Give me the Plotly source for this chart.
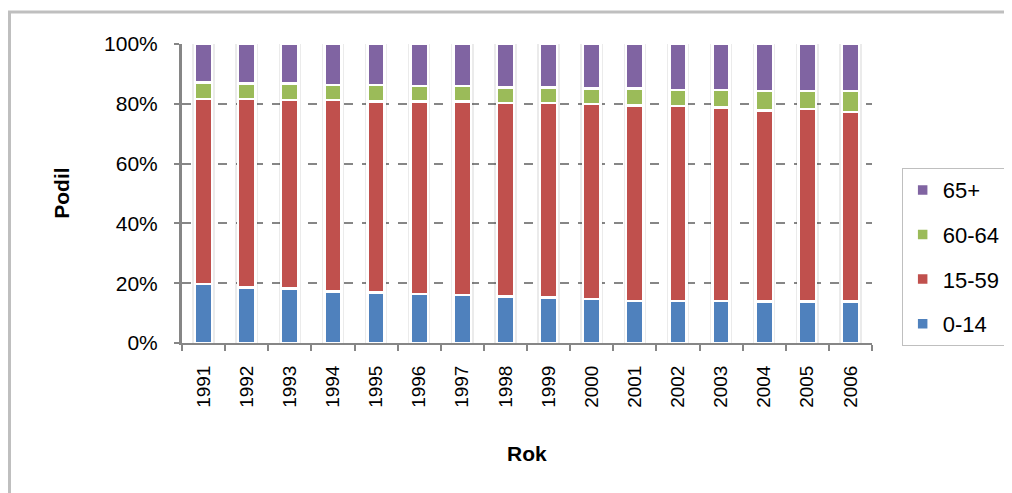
import plotly.graph_objects as go

# -----------------------------
# Datos (podíl věkových skupin, %)
# -----------------------------
roky = ["1991", "1992", "1993", "1994", "1995", "1996", "1997", "1998",
        "1999", "2000", "2001", "2002", "2003", "2004", "2005", "2006"]

vek_0_14 = [19.8, 18.6, 18.2, 17.3, 16.9, 16.4, 16.1, 15.6,
            15.2, 14.7, 14.1, 14.1, 14.1, 13.8, 13.8, 13.8]
vek_15_59 = [61.8, 63.0, 63.0, 63.9, 63.9, 64.4, 64.7, 64.7,
             65.1, 65.3, 65.4, 65.1, 64.6, 64.0, 64.4, 63.4]
vek_60_64 = [5.6, 5.2, 5.6, 5.1, 5.5, 5.2, 5.2, 5.2,
             5.2, 5.2, 5.7, 5.5, 6.0, 6.4, 6.0, 7.0]
vek_65 = [12.8, 13.2, 13.2, 13.7, 13.7, 14.0, 14.0, 14.5,
          14.5, 14.8, 14.8, 15.3, 15.3, 15.8, 15.8, 15.8]

y_ticks = [0, 20, 40, 60, 80, 100]
y_labels = ["0%", "20%", "40%", "60%", "80%", "100%"]

serie = [
    ("0-14", vek_0_14, "#4F81BD", 4),
    ("15-59", vek_15_59, "#C0504D", 3),
    ("60-64", vek_60_64, "#9BBB59", 2),
    ("65+", vek_65, "#8064A2", 1),
]

# suma de cada columna (para la sombra detrás de las barras)
total = [a + b + c + d for a, b, c, d in zip(vek_0_14, vek_15_59, vek_60_64, vek_65)]

FONT = "Liberation Sans, Arial, sans-serif"

fig = go.Figure()

# sombra suave (eje principal, queda debajo)
fig.add_trace(go.Bar(
    x=roky, y=total, width=0.52, showlegend=False, hoverinfo="skip",
    marker=dict(color="rgba(0,0,0,0.08)", line=dict(width=0)),
))

# barras apiladas en ejes superpuestos
for nombre, valores, color, rango in serie:
    fig.add_trace(go.Bar(
        x=roky, y=valores, name=nombre, legendgroup=nombre, legendrank=rango,
        marker=dict(color=color, line=dict(color="white", width=2.5)),
        width=0.4, xaxis="x2", yaxis="y2",
    ))

fig.update_layout(
    width=1004, height=485,
    margin=dict(l=174, r=140, t=36, b=150, autoexpand=False),
    barmode="stack",
    paper_bgcolor="white",
    plot_bgcolor="white",
    font=dict(family=FONT, size=18, color="black"),
    showlegend=True,
    legend=dict(
        x=1.043, y=0.585, xanchor="left", yanchor="top",
        traceorder="grouped", tracegroupgap=13,
        bordercolor="#bfbfbf", borderwidth=1, bgcolor="white",
        font=dict(family=FONT, size=22),
    ),
    xaxis=dict(
        type="category",
        tickangle=-90,
        tickfont=dict(size=19),
        showline=True, linecolor="#868686", linewidth=2,
        ticks="outside", ticklen=6, tickcolor="#868686", tickwidth=2,
        tickson="boundaries",
        ticklabelstandoff=13,
        showgrid=False,
        fixedrange=True,
    ),
    yaxis=dict(
        range=[0, 100],
        tickvals=y_ticks, ticktext=y_labels,
        tickfont=dict(size=21),
        ticklabelstandoff=12,
        showline=True, linecolor="#868686", linewidth=3,
        ticks="outside", ticklen=5, tickcolor="#868686", tickwidth=2,
        showgrid=True, gridcolor="#868686", gridwidth=2, griddash="dash",
        zeroline=False,
        fixedrange=True,
    ),
    xaxis2=dict(type="category", overlaying="x", visible=False, fixedrange=True),
    yaxis2=dict(range=[0, 100], overlaying="y", visible=False, fixedrange=True),
    annotations=[
        dict(text="<b>Podil</b>", x=-0.175, y=0.5, xref="paper", yref="paper",
             xanchor="center", yanchor="middle",
             textangle=-90, showarrow=False, font=dict(family=FONT, size=21)),
        dict(text="<b>Rok</b>", x=0.5, y=-0.368, xref="paper", yref="paper",
             xanchor="center", yanchor="middle",
             showarrow=False, font=dict(family=FONT, size=21)),
    ],
    shapes=[
        dict(type="rect", xref="paper", yref="paper",
             x0=-0.25, y0=-1.0, x1=2.0, y1=1.107,
             line=dict(color="#bfbfbf", width=3), layer="below"),
    ],
)

fig.write_html("out.html")
